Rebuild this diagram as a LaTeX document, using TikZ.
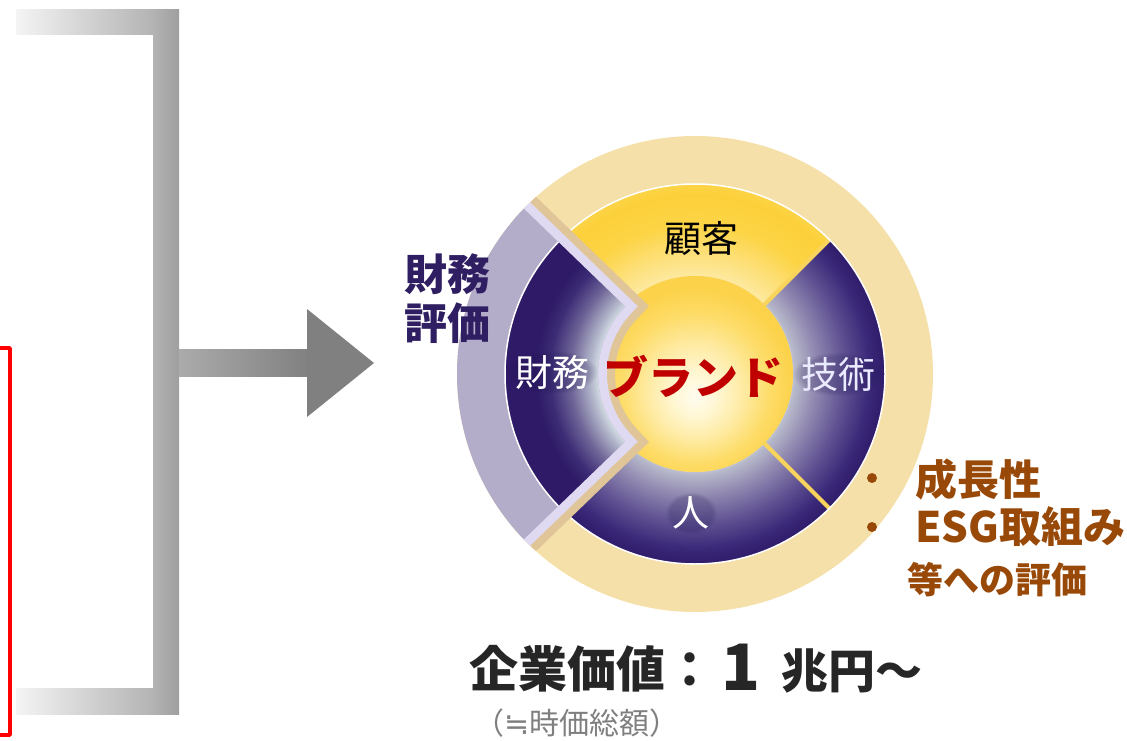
\documentclass[tikz,border=0pt]{standalone}
\usepackage{fontspec}
\usetikzlibrary{fadings}
\newfontfamily\jp{Noto Sans CJK JP}
\newfontfamily\symfont{DejaVu Sans}
\newcommand{\jpsize}[1]{\jp\fontsize{#1pt}{#1pt}\selectfont}

% palette
\definecolor{ringbeige}{HTML}{F5E0AA}
\definecolor{lavgray}{HTML}{B4ADC9}
\definecolor{lavband}{HTML}{DFD9F2}
\definecolor{tanband}{HTML}{DFC597}
\definecolor{navytext}{HTML}{2F1F62}
\definecolor{halonavy}{HTML}{1E1450}
\definecolor{brandred}{HTML}{C00000}
\definecolor{evalbrown}{HTML}{984807}
\definecolor{valuetext}{HTML}{262626}
\definecolor{notegray}{HTML}{7F7F7F}
\definecolor{sepyellow}{HTML}{F8D45C}
\definecolor{barlight}{HTML}{F4F4F4}
\definecolor{barmid}{HTML}{B3B3B3}
\definecolor{bardark}{HTML}{9F9F9F}
\definecolor{shaftlight}{HTML}{ABABAB}
\definecolor{arrowgray}{HTML}{808080}
% purple segments (technology, people)
\definecolor{pr0}{HTML}{D0D8E0}
\definecolor{pr1}{HTML}{B6B8CA}
\definecolor{pr2}{HTML}{938BB2}
\definecolor{pr3}{HTML}{5F5192}
\definecolor{pr4}{HTML}{3A2878}
\definecolor{pr5}{HTML}{2F1C6A}
% finance segment
\definecolor{fn0}{HTML}{D6E0E6}
\definecolor{fn1}{HTML}{B2B6CA}
\definecolor{fn2}{HTML}{706698}
\definecolor{fn3}{HTML}{3C2C76}
\definecolor{fn4}{HTML}{2E1A66}
% yellow segment and core
\definecolor{gd0}{HTML}{FDE9A0}
\definecolor{gd1}{HTML}{FDE07A}
\definecolor{gd2}{HTML}{FCD445}
\definecolor{gd3}{HTML}{FCD03A}
\definecolor{gd4}{HTML}{FCD447}
\definecolor{co0}{HTML}{FFFCF0}
\definecolor{co1}{HTML}{FFF6D0}
\definecolor{co2}{HTML}{FEEAA0}
\definecolor{co3}{HTML}{FDDC68}
\definecolor{co4}{HTML}{FCD24A}

% radial shadings: the path's box is mapped onto the central 50bp square,
% so the rim of a shaded circle of radius 190pt sits at 25bp
\pgfdeclareradialshading{purplering}{\pgfpoint{0bp}{0bp}}{color(0bp)=(pr0); color(12.2bp)=(pr0); color(13.2bp)=(pr1); color(15.8bp)=(pr2); color(19.7bp)=(pr3); color(23bp)=(pr4); color(25bp)=(pr5); color(50bp)=(pr5)}
\pgfdeclareradialshading{finring}{\pgfpoint{0bp}{0bp}}{color(0bp)=(fn0); color(12.6bp)=(fn0); color(13.8bp)=(fn1); color(16.4bp)=(fn2); color(19.1bp)=(fn3); color(21.1bp)=(fn4); color(50bp)=(fn4)}
\pgfdeclareradialshading{goldring}{\pgfpoint{0bp}{0bp}}{color(0bp)=(gd0); color(12.9bp)=(gd0); color(15.8bp)=(gd1); color(19.7bp)=(gd2); color(23.7bp)=(gd3); color(25bp)=(gd4); color(50bp)=(gd4)}
\pgfdeclareradialshading{corecircle}{\pgfpoint{0bp}{-6bp}}{color(0bp)=(co0); color(6bp)=(co1); color(12.5bp)=(co2); color(19bp)=(co3); color(25bp)=(co4); color(50bp)=(co4)}

\begin{document}
\begin{tikzpicture}[x=1pt,y=-1pt,
  txt/.style={inner sep=0pt},
  segtext/.style={txt, text=white, font={\jpsize{37}}},
  softshade/.style={fill=halonavy, fill opacity=0.22, path fading=circle with fuzzy edge 20 percent},
  headtext/.style={txt, text=navytext, font={\jpsize{43}\bfseries}},
  evaltext/.style={txt, text=evalbrown, anchor=west, font={\jpsize{42}\bfseries}},
  bulletdot/.style={circle, fill=evalbrown, inner sep=0pt, minimum size=10pt},
  valtext/.style={txt, text=valuetext, font={\jpsize{49}\bfseries}},
  bandpath/.style={insert path={(136:260pt) -- (136:97pt) arc[start angle=136, end angle=224, radius=97pt] -- (224:260pt)}}
]
\useasboundingbox (0,0) rectangle (1127,741);

% ---- red bracket at the left edge
\draw[red, line width=3.5pt, line join=round] (0,348) -- (10,348) -- (10,735) -- (0,735);

% ---- grey collecting bracket
\shade[left color=barlight, right color=barmid] (16,10) rectangle (154,35);
\shade[left color=barlight, right color=barmid] (16,688) rectangle (154,714);
\shade[left color=barmid, right color=bardark] (153,10) rectangle (179,714);

% ---- arrow towards the value circle
\shade[left color=shaftlight, middle color=arrowgray, right color=arrowgray] (179,349) rectangle (309,376);
\fill[arrowgray] (307,309) -- (374,363) -- (307,417) -- cycle;

% ---- value circle
\begin{scope}[shift={(695,374)}, y=1pt]
  % outer beige ring
  \fill[ringbeige] (0,0) circle (238pt);
  % customer segment (top)
  \begin{scope}
    \clip (45:98pt) -- (45:190pt) arc[start angle=45, end angle=135, radius=190pt]
          -- (135:98pt) arc[start angle=135, end angle=45, radius=98pt] -- cycle;
    \shade[shading=goldring] (0,0) circle (190pt);
  \end{scope}
  % technology and people segments
  \begin{scope}
    \clip (-135:98pt) -- (-135:190pt) arc[start angle=-135, end angle=45, radius=190pt]
          -- (45:98pt) arc[start angle=45, end angle=-135, radius=98pt] -- cycle;
    \shade[shading=purplering] (0,0) circle (190pt);
  \end{scope}
  % brand core
  \shade[shading=corecircle] (0,0) circle (98pt);
  % separators
  \draw[sepyellow, line width=4pt] (45:97pt) -- (45:190pt);
  \draw[sepyellow, line width=4pt] (-45:97pt) -- (-45:190pt);
  \draw[white, line width=1.5pt] (0,0) circle (190pt);
  % finance group with its chevron border
  \begin{scope}
    \clip (0,0) circle (238pt);
    \draw[tanband, line width=34pt, miter limit=10, bandpath];
    \draw[lavband, line width=18pt, miter limit=10, bandpath];
    \clip (136:260pt) -- (136:97pt) arc[start angle=136, end angle=224, radius=97pt]
          -- (224:260pt) arc[start angle=224, end angle=136, radius=260pt] -- cycle;
    \fill[lavgray] (0,0) circle (238pt);
    \shade[shading=finring] (0,0) circle (190pt);
    \draw[white, line width=1.5pt] (0,0) circle (190pt);
  \end{scope}
\end{scope}

% ---- soft dark glow behind the segment labels
\path[softshade] (506,350) rectangle (598,394);
\path[softshade] (792,352) rectangle (884,396);
\path[softshade] (665,492) rectangle (717,534);

% ---- circle labels
\node[txt, text=black, font={\jpsize{37}}] (gokyaku) at (701,238) {顧客};
\node[segtext] (zaimu) at (552,372) {財務};
\node[segtext, text=white!92!blue] (gijutsu) at (838,374) {技術};
\node[segtext] (hito) at (691,513) {人};
\node[txt, text=brandred, font={\jpsize{45}\bfseries}] (brand) at (693,376) {ブランド};

% ---- finance evaluation heading
\node[headtext] (fin1) at (447,274) {財務};
\node[headtext] (fin2) at (447,323) {評価};

% ---- non-financial evaluation list
\node[bulletdot] (dot1) at (872,478) {};
\node[bulletdot] (dot2) at (872,527) {};
\node[evaltext] (growth) at (915,479) {成長性};
\node[evaltext] (esg) at (915,527) {ESG取組み};
\node[evaltext, font={\jpsize{36}\bfseries}] (etc) at (907,580) {等への評価};

% ---- corporate value
\node[valtext, anchor=west] (kigyo) at (469,669) {企業価値：};
\node[txt, text=valuetext, font={\jpsize{64}\bfseries}] (one) at (741,667) {1};
\node[valtext, anchor=west, font={\jpsize{47}\bfseries}] (cho) at (781,671) {兆円～};
\node[txt, text=notegray, font={\jpsize{30}}] (jika) at (577,723) {（{\symfont ≒}時価総額）};
\end{tikzpicture}
\end{document}
